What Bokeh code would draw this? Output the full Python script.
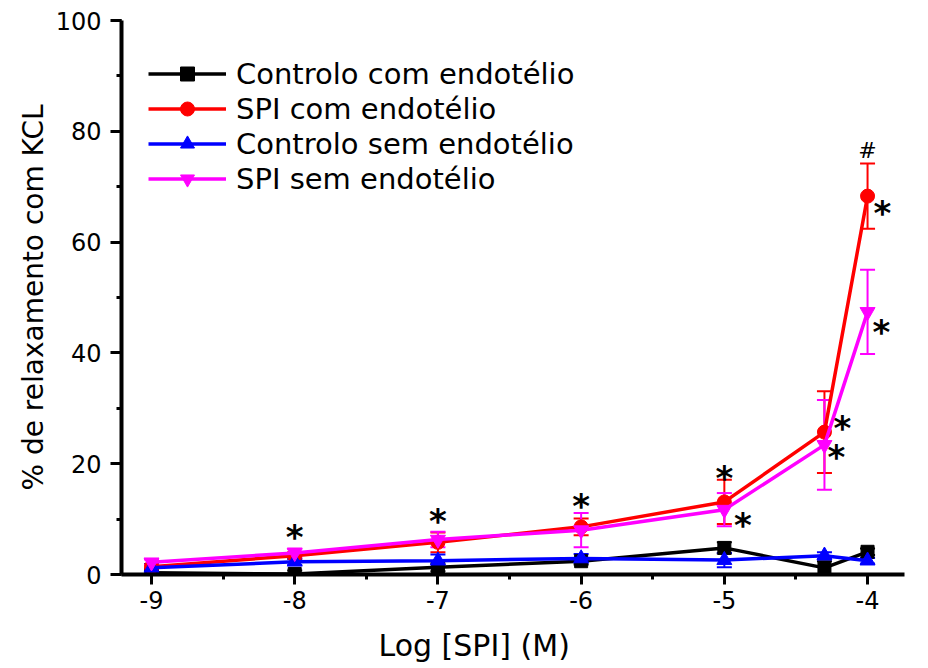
import numpy as np
from bokeh.plotting import figure
from bokeh.models import (ColumnDataSource, Whisker, TeeHead, Title, Range1d,
                          SingleIntervalTicker)
from bokeh.core.properties import value
from bokeh.embed import file_html
from bokeh.resources import INLINE

FONT = "DejaVu Sans"

# ---- data -------------------------------------------------------------
log_conc = [-9, -8, -7, -6, -5, -4.301, -4]
x_ticks = [-9, -8, -7, -6, -5, -4]
x_tick_labels = ["-9", "-8", "-7", "-6", "-5", "-4"]

names = ["Controlo com endotélio", "SPI com endotélio",
         "Controlo sem endotélio", "SPI sem endotélio"]
colors = ["black", "red", "blue", "magenta"]
markers = ["square", "circle", "triangle", "inverted_triangle"]
marker_sizes = [13, 14, 15, 15]

ctrl_com = [0.3, 0.1, 1.3, 2.4, 4.8, 1.2, 4.1]
ctrl_com_err = [0.6, 0.6, 0.7, 0.6, 1.0, 1.2, 0.6]

spi_com = [1.4, 3.4, 5.8, 8.6, 13.1, 25.7, 68.3]
spi_com_err = [0.5, 0.6, 1.8, 1.5, 4.0, 7.4, 5.9]

ctrl_sem = [1.2, 2.3, 2.5, 2.9, 2.6, 3.4, 2.5]
ctrl_sem_err = [0.6, 0.6, 1.1, 0.8, 1.3, 0.6, 0.5]

spi_sem = [2.2, 3.9, 6.3, 8.0, 11.7, 23.4, 47.4]
spi_sem_err = [0.5, 0.8, 1.4, 3.1, 3.0, 8.1, 7.6]

series = [ctrl_com, spi_com, ctrl_sem, spi_sem]
errors = [ctrl_com_err, spi_com_err, ctrl_sem_err, spi_sem_err]

# significance marks (data coordinates)
star_x = [-8, -7, -6, -5, -4.87, -4.176, -4.218, -3.897, -3.904]
star_y = [7.7, 10.5, 13.2, 18.3, 9.9, 27.4, 22.2, 66.1, 44.7]
hash_x = [-4.0]
hash_y = [76.6]

x_label = "Log [SPI] (M)"
y_label = "% de relaxamento com KCL"

# ---- figure -----------------------------------------------------------
p = figure(frame_width=783, frame_height=554,
           x_range=Range1d(-9.2095, -3.742), y_range=Range1d(0, 100),
           output_backend="svg", toolbar_location=None,
           min_border_left=121, min_border_right=15,
           min_border_top=20, min_border_bottom=91)
p.grid.visible = False
p.outline_line_color = None
p.background_fill_color = "white"
p.border_fill_color = "white"

p.xaxis.ticker = SingleIntervalTicker(interval=1, num_minor_ticks=2)
p.yaxis.ticker = SingleIntervalTicker(interval=20, num_minor_ticks=2)
p.xaxis.major_label_overrides = {t: s for t, s in zip(x_ticks, x_tick_labels)}
for ax in (p.xaxis, p.yaxis):
    ax.axis_line_width = 4
    ax.axis_line_color = "black"
    ax.major_tick_line_width = 3
    ax.minor_tick_line_width = 3
    ax.major_tick_line_color = "black"
    ax.minor_tick_line_color = "black"
    ax.major_tick_in = 0
    ax.minor_tick_in = 0
    ax.major_label_text_font = FONT
    ax.major_label_text_font_size = "24px"
    ax.major_label_text_color = "black"
p.xaxis.major_tick_out = 10
p.xaxis.minor_tick_out = 5
p.yaxis.major_tick_out = 11
p.yaxis.minor_tick_out = 5
p.xaxis.major_label_standoff = 6
p.yaxis.major_label_standoff = 9

p.yaxis.axis_label = y_label
p.yaxis.axis_label_text_font = FONT
p.yaxis.axis_label_text_font_size = "28px"
p.yaxis.axis_label_text_font_style = "normal"
p.yaxis.axis_label_text_color = "black"
p.yaxis.axis_label_standoff = 3

p.add_layout(Title(text=x_label, align="left", offset=257, text_font=FONT,
                   text_font_size="30px", text_font_style="normal",
                   text_color="black", standoff=29), "below")

for name, col, mk, ms, ys, es in zip(names, colors, markers, marker_sizes,
                                      series, errors):
    src = ColumnDataSource(dict(
        x=log_conc, y=ys,
        upper=list(np.array(ys) + np.array(es)),
        lower=list(np.array(ys) - np.array(es))))
    p.line("x", "y", source=src, line_color=col, line_width=3.5,
           legend_label=name)
    p.scatter("x", "y", source=src, marker=mk, size=ms, fill_color=col,
              line_color=col, legend_label=name)
    w = Whisker(base="x", upper="upper", lower="lower", source=src,
                line_color=col, line_width=2,
                upper_head=TeeHead(size=15, line_color=col, line_width=2),
                lower_head=TeeHead(size=15, line_color=col, line_width=2))
    p.add_layout(w)

stars = ColumnDataSource(dict(x=star_x, y=star_y, t=["*"] * len(star_x)))
p.text("x", "y", text="t", source=stars, text_font=value(FONT),
       text_font_size="34px", text_font_style="bold", text_color="black",
       text_align="center", text_baseline="alphabetic", y_offset=5)
hashes = ColumnDataSource(dict(x=hash_x, y=hash_y, t=["#"] * len(hash_x)))
p.text("x", "y", text="t", source=hashes, text_font=value(FONT),
       text_font_size="22px", text_color="black",
       text_align="center", text_baseline="middle", y_offset=0)

leg = p.legend[0]
leg.location = (27, 378)
leg.border_line_color = None
leg.background_fill_alpha = 0
leg.padding = 0
leg.margin = 0
leg.spacing = 0
leg.glyph_width = 78
leg.glyph_height = 35
leg.label_height = 35
leg.label_standoff = 10
leg.label_text_font = FONT
leg.label_text_font_size = "29px"
leg.label_text_color = "black"

open("out.html", "w").write(file_html(p, INLINE))
